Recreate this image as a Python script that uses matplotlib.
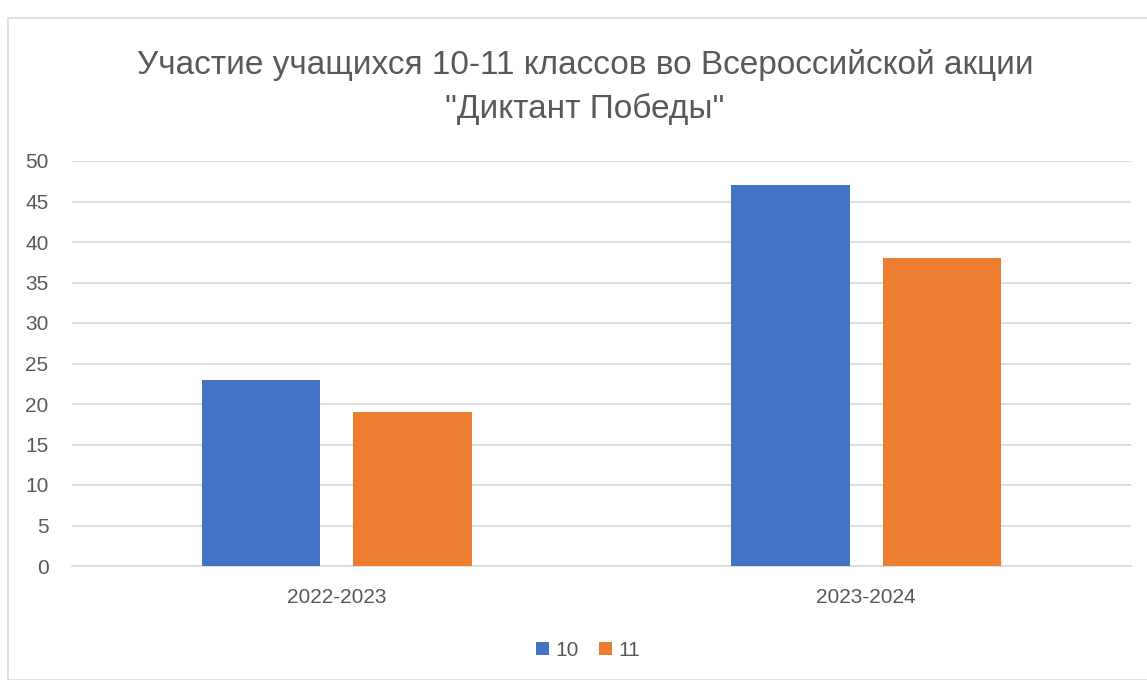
import numpy as np
import matplotlib.pyplot as plt
from matplotlib.patches import Rectangle

years = ['2022-2023', '2023-2024']
grade_10 = [23, 47]
grade_11 = [19, 38]
series_names = ['10', '11']
colors = ['#4472C4', '#ED7D31']
title = 'Участие учащихся 10-11 классов во Всероссийской акции\n"Диктант Победы"'

plt.rcParams['font.family'] = ['Liberation Sans', 'DejaVu Sans']

fig = plt.figure(figsize=(11.47, 6.8), dpi=100)
fig.patches.append(Rectangle((8 / 1147, 0.0), 1.2, (680 - 18) / 680, transform=fig.transFigure,
                             fill=False, edgecolor='#D9D9D9', linewidth=1.2))

ax = fig.add_axes([72 / 1147, 1 - 566 / 680, 1059 / 1147, 405 / 680])

x = np.arange(len(years))
w = 0.223
off = 0.143
ax.bar(x - off, grade_10, w, color=colors[0], label=series_names[0], zorder=3)
ax.bar(x + off, grade_11, w, color=colors[1], label=series_names[1], zorder=3)

ax.set_xlim(-0.5, 1.5)
ax.set_ylim(0, 50)
ax.set_yticks(range(0, 51, 5))
ax.set_xticks(x)
ax.set_xticklabels(years)
ax.grid(axis='y', color='#D9D9D9', linewidth=1.2, zorder=0)
for s in ax.spines.values():
    s.set_visible(False)
ax.spines['bottom'].set_visible(True)
ax.spines['bottom'].set_color('#D9D9D9')
ax.spines['bottom'].set_linewidth(1.2)
ax.tick_params(axis='both', length=0, labelsize=15, colors='#595959')
ax.tick_params(axis='y', pad=17)
ax.tick_params(axis='x', pad=16)

fig.text(585 / 1147, 1 - 87 / 680, title, ha='center', va='center', fontsize=24,
         color='#595959', linespacing=1.45)

leg = fig.legend(loc='center', bbox_to_anchor=(588 / 1147, 1 - 650 / 680), ncol=2, frameon=False,
                 fontsize=15, handlelength=0.6, handleheight=0.6, handletextpad=0.3,
                 columnspacing=1.0)
for t in leg.get_texts():
    t.set_color('#595959')

fig.savefig('out.png', dpi=100)
